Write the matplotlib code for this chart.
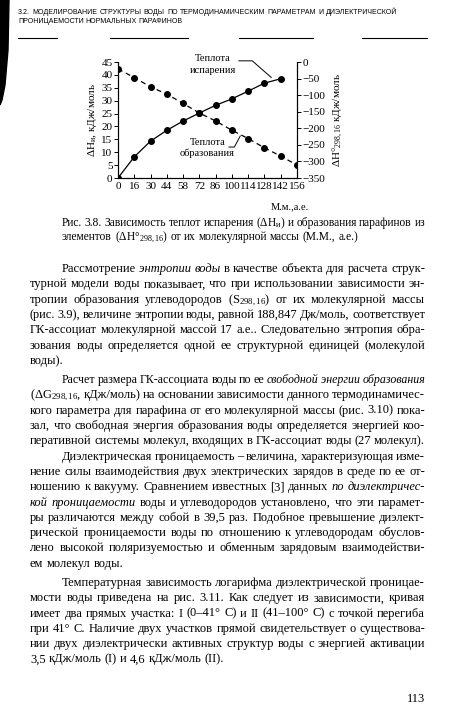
import matplotlib
matplotlib.use('Agg')
import matplotlib.pyplot as plt
from matplotlib.lines import Line2D
from matplotlib.patches import Polygon

plt.rcParams['font.family'] = ['Liberation Serif', 'DejaVu Serif']
plt.rcParams['mathtext.fontset'] = 'custom'
plt.rcParams['mathtext.rm'] = 'Liberation Serif'
plt.rcParams['mathtext.it'] = 'Liberation Serif:italic'
plt.rcParams['mathtext.bf'] = 'Liberation Serif:bold'

W, H = 450, 717

# chart data
mass_labels = ['0', '16', '30', '44', '58', '72', '86', '100', '114', '128', '142', '156']
evap_heat = [0, 8.2, 14.3, 18.5, 22.1, 25.2, 28.2, 30.7, 33.7, 36.8, 38.5]
form_heat = [-21, -47, -75, -97, -125, -154, -178, -206, -231, -259, -284, -311]
left_ticks = [0, 5, 10, 15, 20, 25, 30, 35, 40, 45]
right_ticks = [0, -50, -100, -150, -200, -250, -300, -350]

header = ['3.2. МОДЕЛИРОВАНИЕ СТРУКТУРЫ ВОДЫ ПО ТЕРМОДИНАМИЧЕСКИМ ПАРАМЕТРАМ И ДИЭЛЕКТРИЧЕСКОЙ',
          'ПРОНИЦАЕМОСТИ НОРМАЛЬНЫХ ПАРАФИНОВ']

caption = ['Рис. 3.8. Зависимость теплот испарения (ΔH$_{\\mathrm{и}}$) и образования парафинов из',
           'элементов (ΔH°$_{298,16}$) от их молекулярной массы (М.М., а.е.)']

para1 = ['Рассмотрение *энтропии воды* в качестве объекта для расчета струк-',
         'турной модели воды показывает, что при использовании зависимости эн-',
         'тропии образования углеводородов (S$_{298,16}$) от их молекулярной массы',
         '(рис. 3.9), величине энтропии воды, равной 188,847 Дж/моль, соответствует',
         'ГК-ассоциат молекулярной массой 17 а.е.. Следовательно энтропия обра-',
         'зования воды определяется одной ее структурной единицей (молекулой',
         'воды).']
para2 = ['Расчет размера ГК-ассоциата воды по ее *свободной энергии образования*',
         '(ΔG$_{298,16}$, кДж/моль) на основании зависимости данного термодинамичес-',
         'кого параметра для парафина от его молекулярной массы (рис. 3.10) пока-',
         'зал, что свободная энергия образования воды определяется энергией коо-',
         'перативной системы молекул, входящих в ГК-ассоциат воды (27 молекул).']
para3 = ['Диэлектрическая проницаемость – величина, характеризующая изме-',
         'нение силы взаимодействия двух электрических зарядов в среде по ее от-',
         'ношению к вакууму. Сравнением известных [3] данных *по диэлектричес-*',
         '*кой проницаемости* воды и углеводородов установлено, что эти парамет-',
         'ры различаются между собой в 39,5 раз. Подобное превышение диэлект-',
         'рической проницаемости воды по отношению к углеводородам обуслов-',
         'лено высокой поляризуемостью и обменным зарядовым взаимодействи-',
         'ем молекул воды.']
para4 = ['Температурная зависимость логарифма диэлектрической проницае-',
         'мости воды приведена на рис. 3.11. Как следует из зависимости, кривая',
         'имеет два прямых участка: I (0–41° С) и II (41–100° С) с точкой перегиба',
         'при 41° С. Наличие двух участков прямой свидетельствует о существова-',
         'нии двух диэлектрически активных структур воды с энергией активации',
         '3,5 кДж/моль (I) и 4,6 кДж/моль (II).']

fig = plt.figure(figsize=(W / 100, H / 100), dpi=100)
renderer = fig.canvas.get_renderer()


def place_line(line, x0, x1, y, size, justify=True, family=None, weight='normal'):
    words = []
    italic = False
    for tok in line.split(' '):
        if tok.startswith('*'):
            italic = True
        words.append((tok.strip('*'), italic))
        if tok.endswith('*'):
            italic = False
    kw = {'family': family} if family else {}
    arts = [fig.text(x0 / W, 1 - y / H, w, fontsize=size, va='baseline', ha='left',
                     style='italic' if it else 'normal', weight=weight, **kw)
            for w, it in words]
    widths = [t.get_window_extent(renderer).width for t in arts]
    space = size * 100 / 72 * 0.25
    if justify and len(arts) > 1:
        space = (x1 - x0 - sum(widths)) / (len(arts) - 1)
        # shrink a line that does not fit
        if space < 2.2:
            k = (x1 - x0 - 2.2 * (len(arts) - 1)) / sum(widths)
            for t in arts:
                t.set_fontsize(size * k)
            widths = [t.get_window_extent(renderer).width for t in arts]
            space = (x1 - x0 - sum(widths)) / (len(arts) - 1)
    x = x0
    for t, wd in zip(arts, widths):
        t.set_x(x / W)
        x += wd + space


# scan shadow on the left edge
fig.patches.append(Polygon([(0, 1), (9 / W, 1), (8 / W, 1 - 50 / H), (5 / W, 1 - 85 / H),
                            (2 / W, 1 - 100 / H), (0, 1 - 105 / H)],
                           closed=True, transform=fig.transFigure, color='black'))

# running header
place_line(header[0], 18, 397, 14, 5.0, family='Liberation Sans')
place_line(header[1], 18, 397, 23, 5.0, justify=False, family='Liberation Sans')
for a, b in [(18, 57), (110, 188), (239, 313), (362, 427)]:
    fig.lines.append(Line2D([a / W, b / W], [1 - 38 / H] * 2, transform=fig.transFigure,
                            color='black', lw=0.8))

# chart
ax = fig.add_axes([118 / W, 1 - 178 / H, (297 - 118) / W, (178 - 62) / H])
ax2 = ax.twinx()
xs = list(range(len(mass_labels)))
ax.plot(xs[:len(evap_heat)], evap_heat, color='black', lw=0.9, marker='o', ms=4)
ax2.plot(xs, form_heat, color='black', lw=0.9, ls=(0, (4, 3)), marker='o', ms=4)
ax.set_xlim(0, 11)
ax.set_ylim(0, 45)
ax2.set_ylim(-350, 0)
ax.set_xticks(xs)
ax.set_xticklabels(mass_labels)
ax.set_yticks(left_ticks)
ax2.set_yticks(right_ticks)
for a in (ax, ax2):
    a.spines['top'].set_visible(False)
    for s in a.spines.values():
        s.set_linewidth(0.8)
ax.tick_params(axis='x', direction='in', length=3, labelsize=8, pad=3, width=0.7)
ax.tick_params(axis='y', direction='out', length=3, labelsize=8, pad=1, width=0.7)
ax2.tick_params(axis='y', direction='out', length=3, labelsize=8, pad=1, width=0.7)
ax.set_ylabel('ΔH$_{\\mathrm{и}}$, кДж/моль', fontsize=8, labelpad=2)
ax2.set_ylabel('ΔH°$_{298,16}$ кДж/моль', fontsize=8, labelpad=4)
ax.text(0.96, -0.27, 'М.м.,а.е.', transform=ax.transAxes, fontsize=7.5, ha='center')

ax.text(0.53, 1.03, 'Теплота', transform=ax.transAxes, fontsize=7.5, ha='center', va='center')
ax.text(0.53, 0.93, 'испарения', transform=ax.transAxes, fontsize=7.5, ha='center', va='center')
ax.plot([0.675, 0.75, 0.856], [1.01, 1.01, 0.867], transform=ax.transAxes, color='black',
        lw=0.7, clip_on=False)
ax.text(0.50, 0.305, 'Теплота', transform=ax.transAxes, fontsize=7.5, ha='center', va='center')
ax.text(0.50, 0.21, 'образования', transform=ax.transAxes, fontsize=7.5, ha='center', va='center')
ax.plot([0.62, 0.65, 0.683], [0.267, 0.267, 0.362], transform=ax.transAxes, color='black',
        lw=0.7, clip_on=False)

# caption
place_line(caption[0], 62, 425, 226, 8.3)
place_line(caption[1], 62, 425, 240, 8.3, justify=False)

# body text
y = 272
step = 15.3
for para in (para1, para2, para3, para4):
    for i, line in enumerate(para):
        x0 = 62 if i == 0 else 30
        last = i == len(para) - 1 and para is not para2
        place_line(line, x0, 425, y, 9.0, justify=not last)
        y += step
    if para is para1 or para is para3:
        y += 4

fig.text(425 / W, 1 - 702 / H, '113', fontsize=9.0, ha='right', va='baseline')

fig.savefig('out.png', dpi=100)
